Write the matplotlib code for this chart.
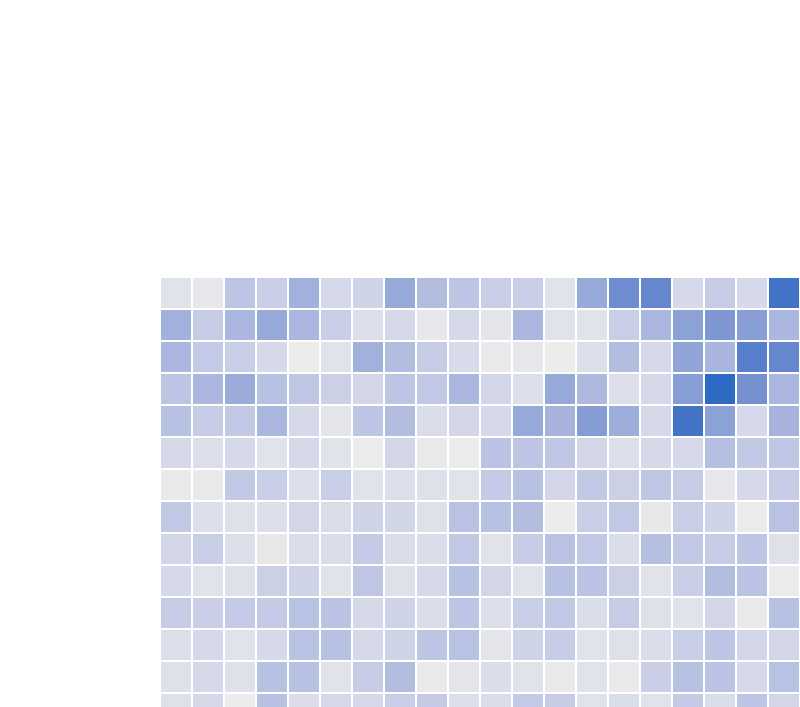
import numpy as np
import matplotlib
matplotlib.use("Agg")
from matplotlib import pyplot as plt
from matplotlib.colors import LinearSegmentedColormap

# cell intensities (0 = light grey, 10 = strongest blue), read row by row
row_00 = [1.0, 0.5, 4.0, 3.0, 6.0, 2.0, 2.5, 6.5, 5.0, 4.0, 3.0, 3.0, 1.0, 6.5, 8.0, 8.3, 2.0, 3.2, 2.0, 9.5]
row_01 = [6.0, 3.2, 5.5, 6.5, 5.5, 3.0, 1.5, 2.0, 0.5, 2.0, 0.8, 5.5, 1.0, 1.0, 3.0, 5.5, 7.0, 7.5, 7.2, 5.5]
row_02 = [5.5, 3.5, 3.0, 2.0, 0.0, 1.0, 6.0, 5.0, 3.2, 1.8, 0.2, 0.6, 0.0, 1.5, 5.0, 2.0, 6.8, 5.6, 8.8, 8.3]
row_03 = [4.0, 5.5, 6.3, 4.5, 3.8, 2.8, 2.3, 4.0, 3.6, 5.5, 2.3, 1.5, 6.5, 5.3, 1.5, 2.0, 7.2, 10.0, 7.8, 5.5]
row_04 = [4.5, 3.2, 3.6, 5.5, 2.0, 0.8, 4.0, 5.0, 1.7, 2.3, 2.0, 6.5, 5.8, 7.3, 6.2, 2.0, 9.5, 7.0, 2.0, 5.8]
row_05 = [2.0, 1.5, 2.0, 1.0, 2.0, 1.0, 0.1, 2.3, 0.3, 0.1, 4.2, 4.0, 3.8, 2.3, 1.5, 2.0, 2.0, 4.8, 3.6, 3.8]
row_06 = [0.2, 0.2, 3.6, 3.0, 1.5, 3.0, 1.0, 1.5, 1.2, 1.0, 3.3, 4.5, 2.3, 3.6, 2.8, 3.9, 3.2, 0.5, 2.0, 3.2]
row_07 = [3.6, 1.5, 1.2, 1.5, 2.3, 1.7, 2.5, 2.4, 1.2, 4.3, 4.5, 5.0, 0.0, 3.0, 3.6, 0.4, 3.0, 2.5, 0.1, 4.3]
row_08 = [2.3, 3.0, 1.5, 0.4, 1.7, 1.7, 3.3, 1.7, 1.6, 3.6, 1.0, 3.1, 4.3, 3.6, 1.7, 4.8, 3.6, 3.2, 4.0, 1.2]
row_09 = [2.0, 1.0, 1.3, 2.8, 2.5, 1.0, 3.9, 1.3, 2.0, 4.5, 2.3, 1.0, 4.5, 4.2, 2.8, 1.0, 3.0, 5.0, 4.2, 0.1]
row_10 = [3.2, 2.9, 3.3, 3.3, 4.4, 4.2, 2.0, 2.5, 1.6, 4.0, 1.5, 3.0, 3.6, 1.7, 3.2, 1.3, 1.0, 2.3, 0.2, 4.5]
row_11 = [1.5, 2.0, 1.0, 2.0, 4.4, 4.5, 2.0, 2.5, 4.0, 4.4, 0.8, 2.5, 3.1, 1.0, 1.3, 1.7, 3.0, 4.0, 2.3, 2.3]
row_12 = [1.3, 2.0, 1.3, 4.5, 4.5, 1.0, 3.2, 5.0, 0.2, 0.8, 1.6, 1.0, 0.2, 1.0, 0.2, 2.9, 4.5, 4.2, 2.0, 4.4]
row_13 = [1.3, 2.0, 0.0, 4.5, 1.6, 2.0, 2.0, 3.0, 3.3, 1.5, 1.7, 3.4, 3.2, 1.0, 1.7, 1.0, 3.3, 1.7, 4.0, 2.3]

values = np.array([row_00, row_01, row_02, row_03, row_04, row_05, row_06,
                   row_07, row_08, row_09, row_10, row_11, row_12, row_13])
n_rows, n_cols = values.shape

# grey -> lavender -> blue
cmap = LinearSegmentedColormap.from_list("greyblue", [
    (0.00, "#ececec"),
    (0.20, "#d6d9e9"),
    (0.30, "#c9cee7"),
    (0.40, "#bcc5e4"),
    (0.50, "#b2bde0"),
    (0.60, "#a2b1dc"),
    (0.73, "#869cd4"),
    (0.80, "#6e8ccf"),
    (0.95, "#4474c7"),
    (1.00, "#2e6bc5"),
])

fig = plt.figure(figsize=(8.0, 7.07), dpi=100)
cell = 32
ax_h = n_rows * cell
ax = fig.add_axes([160 / 800, (707 - 277 - ax_h) / 707, n_cols * cell / 800, ax_h / 707])
ax.pcolormesh(np.arange(n_cols + 1), np.arange(n_rows + 1), values,
              cmap=cmap, vmin=0, vmax=10, edgecolor="white", linewidth=1.3)
ax.set_xlim(0, n_cols)
ax.set_ylim(n_rows, 0)
ax.axis("off")

fig.savefig("out.png", dpi=100, facecolor="white")
